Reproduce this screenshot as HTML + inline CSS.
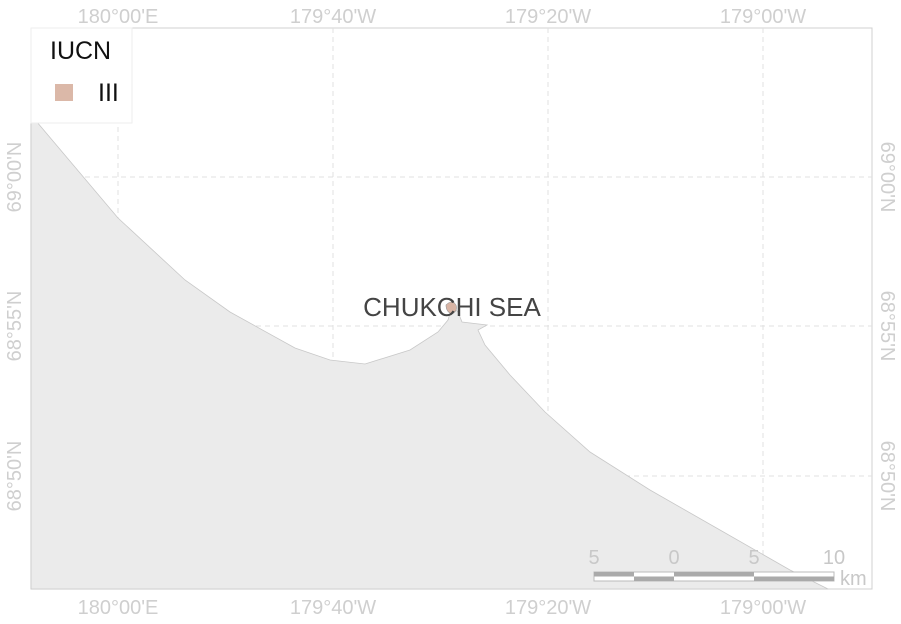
<!DOCTYPE html>
<html><head><meta charset="utf-8"><style>
body{margin:0;background:#fff;font-family:"Liberation Sans",sans-serif}
svg text{font-family:"Liberation Sans",sans-serif}
</style></head><body>
<svg id="map" width="901" height="619">
<rect x="31" y="28" width="841" height="561" fill="#fff" stroke="#d0d0d0"/>
<g id="grid"></g>
<polygon id="land" fill="#ebebeb" stroke="#c8c8c8" stroke-width="0.8"/>
<g id="ticks"></g>
<path d="M446,305 q6,-6 10,0 q2,6 -4,9 q-6,-2 -6,-9z" fill="#d9b5a5" stroke="#999" stroke-width="0.6"/>
<text x="452" y="316" font-size="26" fill="#444" text-anchor="middle">CHUKCHI SEA</text>
<g>
<rect x="594" y="572" width="240" height="9" fill="#fff" stroke="#bbb" stroke-width="1"/>
<rect x="594" y="572" width="40" height="4.5" fill="#aaa"/>
<rect x="634" y="576.5" width="40" height="4.5" fill="#aaa"/>
<rect x="674" y="572" width="80" height="4.5" fill="#aaa"/>
<rect x="754" y="576.5" width="80" height="4.5" fill="#aaa"/>
<g font-size="20" fill="#c8c8c8" text-anchor="middle">
<text x="594" y="564">5</text><text x="674" y="564">0</text><text x="754" y="564">5</text><text x="834" y="564">10</text>
</g>
<text x="840" y="585" font-size="20" fill="#c8c8c8">km</text>
</g>
<g>
<rect x="31" y="28" width="101" height="95" fill="#fff" stroke="#eee"/>
<text x="50" y="59" font-size="25" fill="#111">IUCN</text>
<rect x="55" y="84" width="18" height="17" fill="#dbb8a8"/>
<text x="98" y="101" font-size="25" fill="#111">III</text>
</g>
</svg>
<script>
const lonLabels=["180°00'E","179°40'W","179°20'W","179°00'W"];
const lonPos=[118,333,548,763];
const latLabels=["69°00'N","68°55'N","68°50'N"];
const latPos=[177,326,476];
const coast=[[31,115],[118,218],[185,280],[230,312],[295,348],[330,360],[365,364],[410,350],[438,332],[448,320],[452,306],[458,312],[462,322],[487,325],[478,330],[485,345],[510,375],[545,412],[590,452],[650,490],[720,530],[790,570],[828,589],[31,589]];
const NS="http://www.w3.org/2000/svg";
const g=document.getElementById('grid'),t=document.getElementById('ticks');
function mk(tag,a,p){const e=document.createElementNS(NS,tag);for(const k in a)e.setAttribute(k,a[k]);p.appendChild(e);return e;}
lonPos.forEach((x,i)=>{
 const l=mk('line',{x1:x,x2:x,y1:28,y2:589,stroke:'#e0e0e0','stroke-dasharray':'5,4'},g);
 
 
 [23,614].forEach(y=>{const tx=mk('text',{x:x,y:y,'font-size':20,fill:'#cfcfcf','text-anchor':'middle'},t);tx.textContent=lonLabels[i];
 
 });
});
latPos.forEach((y,i)=>{
 const l=mk('line',{x1:31,x2:872,y1:y,y2:y,stroke:'#e0e0e0','stroke-dasharray':'5,4'},g);
 
 
 [[21,-90],[881,90]].forEach(([x,r])=>{const tx=mk('text',{x:x,y:y,'font-size':20,fill:'#cfcfcf','text-anchor':'middle',transform:`rotate(${r} ${x} ${y})`},t);tx.textContent=latLabels[i];
 
 });
});
document.getElementById('land').setAttribute('points',coast.map(p=>p.join(',')).join(' '));
</script>
</body></html>
